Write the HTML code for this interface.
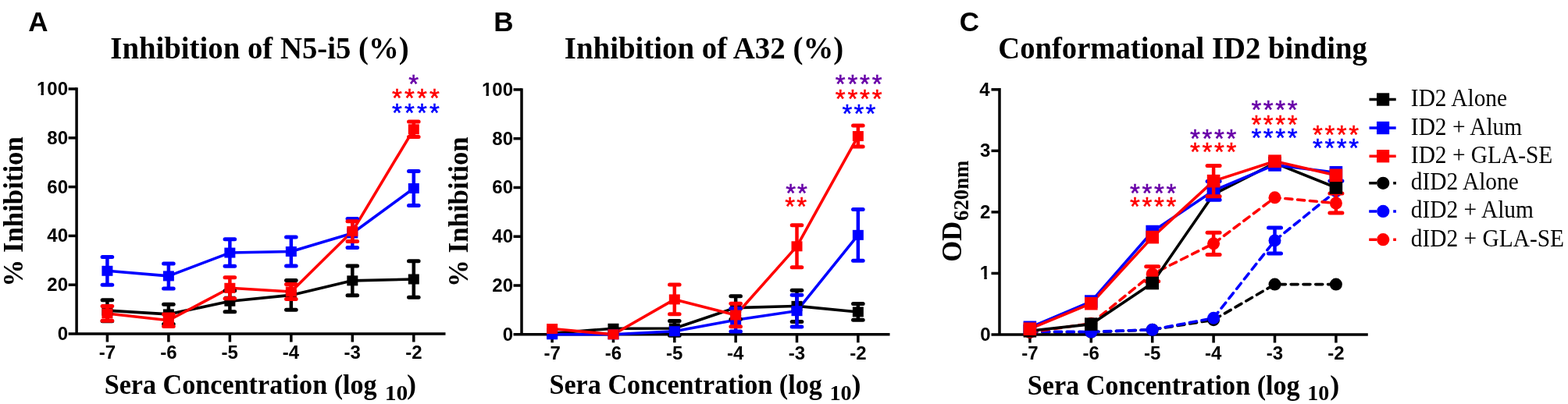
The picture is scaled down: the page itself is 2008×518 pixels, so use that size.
<!DOCTYPE html>
<html><head><meta charset="utf-8"><title>Figure</title>
<style>html,body{margin:0;padding:0;background:#fff;overflow:hidden;}svg{display:block;}</style>
</head><body>
<svg width="2008" height="518" viewBox="0 0 2008 518">
<rect width="2008" height="518" fill="#fff"/>
<text transform="translate(36.23,39.90) scale(1.0000,1)" font-family='"Liberation Sans", Arial, sans-serif' font-weight="bold" font-size="35" fill="#000">A</text>
<text transform="translate(632.26,39.90) scale(1.0000,1)" font-family='"Liberation Sans", Arial, sans-serif' font-weight="bold" font-size="35" fill="#000">B</text>
<text transform="translate(1228.66,39.90) scale(1.0000,1)" font-family='"Liberation Sans", Arial, sans-serif' font-weight="bold" font-size="35" fill="#000">C</text>
<text transform="translate(141.29,74.60) scale(0.9577,1)" font-family='"Liberation Serif", "Times New Roman", serif' font-weight="bold" font-size="40.5" fill="#000">Inhibition of N5-i5 (%)</text>
<text transform="translate(722.79,74.60) scale(0.9598,1)" font-family='"Liberation Serif", "Times New Roman", serif' font-weight="bold" font-size="40.5" fill="#000">Inhibition of A32 (%)</text>
<text transform="translate(1278.21,74.90) scale(0.9549,1)" font-family='"Liberation Serif", "Times New Roman", serif' font-weight="bold" font-size="40.5" fill="#000">Conformational ID2 binding</text>
<path d="M98.10,112.25 V428.00" stroke="#000" stroke-width="3.5" fill="none"/>
<path d="M87.60,428.00 H570.50" stroke="#000" stroke-width="3.5" fill="none"/>
<text transform="translate(73.64,436.00) scale(1.0000,1)" font-family='"Liberation Sans", Arial, sans-serif' font-weight="bold" font-size="24" fill="#000">0</text>
<path d="M87.60,365.20 H98.10" stroke="#000" stroke-width="3.5" fill="none"/>
<text transform="translate(60.29,373.20) scale(1.0000,1)" font-family='"Liberation Sans", Arial, sans-serif' font-weight="bold" font-size="24" fill="#000">20</text>
<path d="M87.60,302.40 H98.10" stroke="#000" stroke-width="3.5" fill="none"/>
<text transform="translate(60.29,310.40) scale(1.0000,1)" font-family='"Liberation Sans", Arial, sans-serif' font-weight="bold" font-size="24" fill="#000">40</text>
<path d="M87.60,239.60 H98.10" stroke="#000" stroke-width="3.5" fill="none"/>
<text transform="translate(60.29,247.60) scale(1.0000,1)" font-family='"Liberation Sans", Arial, sans-serif' font-weight="bold" font-size="24" fill="#000">60</text>
<path d="M87.60,176.80 H98.10" stroke="#000" stroke-width="3.5" fill="none"/>
<text transform="translate(60.29,184.80) scale(1.0000,1)" font-family='"Liberation Sans", Arial, sans-serif' font-weight="bold" font-size="24" fill="#000">80</text>
<path d="M87.60,114.00 H98.10" stroke="#000" stroke-width="3.5" fill="none"/>
<text transform="translate(46.94,122.00) scale(1.0000,1)" font-family='"Liberation Sans", Arial, sans-serif' font-weight="bold" font-size="24" fill="#000">100</text>
<path d="M47.85,117.95 H52.49 V122.80 H47.85 Z M55.89,117.95 H60.22 V122.80 H55.89 Z" fill="#fff"/>
<path d="M137.40,428.00 V438.50" stroke="#000" stroke-width="3.5" fill="none"/>
<text transform="translate(126.79,460.30) scale(1.0000,1)" font-family='"Liberation Sans", Arial, sans-serif' font-weight="bold" font-size="24" fill="#000">-7</text>
<path d="M215.88,428.00 V438.50" stroke="#000" stroke-width="3.5" fill="none"/>
<text transform="translate(205.17,460.30) scale(1.0000,1)" font-family='"Liberation Sans", Arial, sans-serif' font-weight="bold" font-size="24" fill="#000">-6</text>
<path d="M294.36,428.00 V438.50" stroke="#000" stroke-width="3.5" fill="none"/>
<text transform="translate(283.56,460.30) scale(1.0000,1)" font-family='"Liberation Sans", Arial, sans-serif' font-weight="bold" font-size="24" fill="#000">-5</text>
<path d="M372.84,428.00 V438.50" stroke="#000" stroke-width="3.5" fill="none"/>
<text transform="translate(361.77,460.30) scale(1.0000,1)" font-family='"Liberation Sans", Arial, sans-serif' font-weight="bold" font-size="24" fill="#000">-4</text>
<path d="M451.32,428.00 V438.50" stroke="#000" stroke-width="3.5" fill="none"/>
<text transform="translate(440.61,460.30) scale(1.0000,1)" font-family='"Liberation Sans", Arial, sans-serif' font-weight="bold" font-size="24" fill="#000">-3</text>
<path d="M529.80,428.00 V438.50" stroke="#000" stroke-width="3.5" fill="none"/>
<text transform="translate(519.14,460.30) scale(1.0000,1)" font-family='"Liberation Sans", Arial, sans-serif' font-weight="bold" font-size="24" fill="#000">-2</text>
<path d="M137.40,398.17 L215.88,402.88 L294.36,386.24 L372.84,378.39 L451.32,359.86 L529.80,357.98" stroke="#000000" stroke-width="3.6" fill="none" stroke-linejoin="round"/>
<path d="M137.40,347.30 L215.88,353.90 L294.36,324.07 L372.84,322.50 L451.32,298.95 L529.80,241.48" stroke="#0000ff" stroke-width="3.6" fill="none" stroke-linejoin="round"/>
<path d="M137.40,401.94 L215.88,410.73 L294.36,369.28 L372.84,373.99 L451.32,296.59 L529.80,165.81" stroke="#ff0000" stroke-width="3.6" fill="none" stroke-linejoin="round"/>
<path d="M137.40,384.67 V411.67" stroke="#000000" stroke-width="4.5" fill="none"/>
<path d="M131.10,384.67 H143.70" stroke="#000000" stroke-width="5" stroke-linecap="round" fill="none"/>
<path d="M131.10,411.67 H143.70" stroke="#000000" stroke-width="5" stroke-linecap="round" fill="none"/>
<rect x="130.40" y="391.67" width="14" height="13" fill="#000000"/>
<path d="M215.88,390.32 V415.44" stroke="#000000" stroke-width="4.5" fill="none"/>
<path d="M209.58,390.32 H222.18" stroke="#000000" stroke-width="5" stroke-linecap="round" fill="none"/>
<path d="M209.58,415.44 H222.18" stroke="#000000" stroke-width="5" stroke-linecap="round" fill="none"/>
<rect x="208.88" y="396.38" width="14" height="13" fill="#000000"/>
<path d="M294.36,372.74 V399.74" stroke="#000000" stroke-width="4.5" fill="none"/>
<path d="M288.06,372.74 H300.66" stroke="#000000" stroke-width="5" stroke-linecap="round" fill="none"/>
<path d="M288.06,399.74 H300.66" stroke="#000000" stroke-width="5" stroke-linecap="round" fill="none"/>
<rect x="287.36" y="379.74" width="14" height="13" fill="#000000"/>
<path d="M372.84,359.55 V397.23" stroke="#000000" stroke-width="4.5" fill="none"/>
<path d="M366.54,359.55 H379.14" stroke="#000000" stroke-width="5" stroke-linecap="round" fill="none"/>
<path d="M366.54,397.23 H379.14" stroke="#000000" stroke-width="5" stroke-linecap="round" fill="none"/>
<rect x="365.84" y="371.89" width="14" height="13" fill="#000000"/>
<path d="M451.32,341.02 V378.70" stroke="#000000" stroke-width="4.5" fill="none"/>
<path d="M445.02,341.02 H457.62" stroke="#000000" stroke-width="5" stroke-linecap="round" fill="none"/>
<path d="M445.02,378.70 H457.62" stroke="#000000" stroke-width="5" stroke-linecap="round" fill="none"/>
<rect x="444.32" y="353.36" width="14" height="13" fill="#000000"/>
<path d="M529.80,334.74 V381.21" stroke="#000000" stroke-width="4.5" fill="none"/>
<path d="M523.50,334.74 H536.10" stroke="#000000" stroke-width="5" stroke-linecap="round" fill="none"/>
<path d="M523.50,381.21 H536.10" stroke="#000000" stroke-width="5" stroke-linecap="round" fill="none"/>
<rect x="522.80" y="351.48" width="14" height="13" fill="#000000"/>
<path d="M137.40,329.40 V365.20" stroke="#0000ff" stroke-width="4.5" fill="none"/>
<path d="M131.10,329.40 H143.70" stroke="#0000ff" stroke-width="5" stroke-linecap="round" fill="none"/>
<path d="M131.10,365.20 H143.70" stroke="#0000ff" stroke-width="5" stroke-linecap="round" fill="none"/>
<rect x="130.40" y="340.80" width="14" height="13" fill="#0000ff"/>
<path d="M215.88,337.88 V369.91" stroke="#0000ff" stroke-width="4.5" fill="none"/>
<path d="M209.58,337.88 H222.18" stroke="#0000ff" stroke-width="5" stroke-linecap="round" fill="none"/>
<path d="M209.58,369.91 H222.18" stroke="#0000ff" stroke-width="5" stroke-linecap="round" fill="none"/>
<rect x="208.88" y="347.40" width="14" height="13" fill="#0000ff"/>
<path d="M294.36,306.80 V341.34" stroke="#0000ff" stroke-width="4.5" fill="none"/>
<path d="M288.06,306.80 H300.66" stroke="#0000ff" stroke-width="5" stroke-linecap="round" fill="none"/>
<path d="M288.06,341.34 H300.66" stroke="#0000ff" stroke-width="5" stroke-linecap="round" fill="none"/>
<rect x="287.36" y="317.57" width="14" height="13" fill="#0000ff"/>
<path d="M372.84,303.97 V341.02" stroke="#0000ff" stroke-width="4.5" fill="none"/>
<path d="M366.54,303.97 H379.14" stroke="#0000ff" stroke-width="5" stroke-linecap="round" fill="none"/>
<path d="M366.54,341.02 H379.14" stroke="#0000ff" stroke-width="5" stroke-linecap="round" fill="none"/>
<rect x="365.84" y="316.00" width="14" height="13" fill="#0000ff"/>
<path d="M451.32,280.42 V317.47" stroke="#0000ff" stroke-width="4.5" fill="none"/>
<path d="M445.02,280.42 H457.62" stroke="#0000ff" stroke-width="5" stroke-linecap="round" fill="none"/>
<path d="M445.02,317.47 H457.62" stroke="#0000ff" stroke-width="5" stroke-linecap="round" fill="none"/>
<rect x="444.32" y="292.45" width="14" height="13" fill="#0000ff"/>
<path d="M529.80,219.50 V263.46" stroke="#0000ff" stroke-width="4.5" fill="none"/>
<path d="M523.50,219.50 H536.10" stroke="#0000ff" stroke-width="5" stroke-linecap="round" fill="none"/>
<path d="M523.50,263.46 H536.10" stroke="#0000ff" stroke-width="5" stroke-linecap="round" fill="none"/>
<rect x="522.80" y="234.98" width="14" height="13" fill="#0000ff"/>
<path d="M137.40,392.52 V411.36" stroke="#ff0000" stroke-width="4.5" fill="none"/>
<path d="M131.10,392.52 H143.70" stroke="#ff0000" stroke-width="5" stroke-linecap="round" fill="none"/>
<path d="M131.10,411.36 H143.70" stroke="#ff0000" stroke-width="5" stroke-linecap="round" fill="none"/>
<rect x="130.40" y="395.44" width="14" height="13" fill="#ff0000"/>
<path d="M215.88,402.88 V418.58" stroke="#ff0000" stroke-width="4.5" fill="none"/>
<path d="M209.58,402.88 H222.18" stroke="#ff0000" stroke-width="5" stroke-linecap="round" fill="none"/>
<path d="M209.58,418.58 H222.18" stroke="#ff0000" stroke-width="5" stroke-linecap="round" fill="none"/>
<rect x="208.88" y="404.23" width="14" height="13" fill="#ff0000"/>
<path d="M294.36,355.78 V382.78" stroke="#ff0000" stroke-width="4.5" fill="none"/>
<path d="M288.06,355.78 H300.66" stroke="#ff0000" stroke-width="5" stroke-linecap="round" fill="none"/>
<path d="M288.06,382.78 H300.66" stroke="#ff0000" stroke-width="5" stroke-linecap="round" fill="none"/>
<rect x="287.36" y="362.78" width="14" height="13" fill="#ff0000"/>
<path d="M372.84,364.57 V383.41" stroke="#ff0000" stroke-width="4.5" fill="none"/>
<path d="M366.54,364.57 H379.14" stroke="#ff0000" stroke-width="5" stroke-linecap="round" fill="none"/>
<path d="M366.54,383.41 H379.14" stroke="#ff0000" stroke-width="5" stroke-linecap="round" fill="none"/>
<rect x="365.84" y="367.49" width="14" height="13" fill="#ff0000"/>
<path d="M451.32,283.72 V309.47" stroke="#ff0000" stroke-width="4.5" fill="none"/>
<path d="M445.02,283.72 H457.62" stroke="#ff0000" stroke-width="5" stroke-linecap="round" fill="none"/>
<path d="M445.02,309.47 H457.62" stroke="#ff0000" stroke-width="5" stroke-linecap="round" fill="none"/>
<rect x="444.32" y="290.09" width="14" height="13" fill="#ff0000"/>
<path d="M529.80,156.08 V175.54" stroke="#ff0000" stroke-width="4.5" fill="none"/>
<path d="M523.50,156.08 H536.10" stroke="#ff0000" stroke-width="5" stroke-linecap="round" fill="none"/>
<path d="M523.50,175.54 H536.10" stroke="#ff0000" stroke-width="5" stroke-linecap="round" fill="none"/>
<rect x="522.80" y="159.31" width="14" height="13" fill="#ff0000"/>
<path d="M668.00,113.15 V428.80" stroke="#000" stroke-width="3.5" fill="none"/>
<path d="M657.50,428.80 H1139.50" stroke="#000" stroke-width="3.5" fill="none"/>
<text transform="translate(643.64,436.80) scale(1.0000,1)" font-family='"Liberation Sans", Arial, sans-serif' font-weight="bold" font-size="24" fill="#000">0</text>
<path d="M657.50,366.02 H668.00" stroke="#000" stroke-width="3.5" fill="none"/>
<text transform="translate(630.29,374.02) scale(1.0000,1)" font-family='"Liberation Sans", Arial, sans-serif' font-weight="bold" font-size="24" fill="#000">20</text>
<path d="M657.50,303.24 H668.00" stroke="#000" stroke-width="3.5" fill="none"/>
<text transform="translate(630.29,311.24) scale(1.0000,1)" font-family='"Liberation Sans", Arial, sans-serif' font-weight="bold" font-size="24" fill="#000">40</text>
<path d="M657.50,240.46 H668.00" stroke="#000" stroke-width="3.5" fill="none"/>
<text transform="translate(630.29,248.46) scale(1.0000,1)" font-family='"Liberation Sans", Arial, sans-serif' font-weight="bold" font-size="24" fill="#000">60</text>
<path d="M657.50,177.68 H668.00" stroke="#000" stroke-width="3.5" fill="none"/>
<text transform="translate(630.29,185.68) scale(1.0000,1)" font-family='"Liberation Sans", Arial, sans-serif' font-weight="bold" font-size="24" fill="#000">80</text>
<path d="M657.50,114.90 H668.00" stroke="#000" stroke-width="3.5" fill="none"/>
<text transform="translate(616.94,122.90) scale(1.0000,1)" font-family='"Liberation Sans", Arial, sans-serif' font-weight="bold" font-size="24" fill="#000">100</text>
<path d="M617.85,118.85 H622.49 V123.70 H617.85 Z M625.89,118.85 H630.22 V123.70 H625.89 Z" fill="#fff"/>
<path d="M707.10,428.80 V439.30" stroke="#000" stroke-width="3.5" fill="none"/>
<text transform="translate(696.49,460.50) scale(1.0000,1)" font-family='"Liberation Sans", Arial, sans-serif' font-weight="bold" font-size="24" fill="#000">-7</text>
<path d="M785.45,428.80 V439.30" stroke="#000" stroke-width="3.5" fill="none"/>
<text transform="translate(774.74,460.50) scale(1.0000,1)" font-family='"Liberation Sans", Arial, sans-serif' font-weight="bold" font-size="24" fill="#000">-6</text>
<path d="M863.80,428.80 V439.30" stroke="#000" stroke-width="3.5" fill="none"/>
<text transform="translate(853.00,460.50) scale(1.0000,1)" font-family='"Liberation Sans", Arial, sans-serif' font-weight="bold" font-size="24" fill="#000">-5</text>
<path d="M942.15,428.80 V439.30" stroke="#000" stroke-width="3.5" fill="none"/>
<text transform="translate(931.08,460.50) scale(1.0000,1)" font-family='"Liberation Sans", Arial, sans-serif' font-weight="bold" font-size="24" fill="#000">-4</text>
<path d="M1020.50,428.80 V439.30" stroke="#000" stroke-width="3.5" fill="none"/>
<text transform="translate(1009.79,460.50) scale(1.0000,1)" font-family='"Liberation Sans", Arial, sans-serif' font-weight="bold" font-size="24" fill="#000">-3</text>
<path d="M1098.85,428.80 V439.30" stroke="#000" stroke-width="3.5" fill="none"/>
<text transform="translate(1088.19,460.50) scale(1.0000,1)" font-family='"Liberation Sans", Arial, sans-serif' font-weight="bold" font-size="24" fill="#000">-2</text>
<path d="M707.10,427.23 L785.45,421.27 L863.80,420.95 L942.15,394.58 L1020.50,392.39 L1098.85,399.92" stroke="#000000" stroke-width="3.6" fill="none" stroke-linejoin="round"/>
<path d="M707.10,428.80 L785.45,428.80 L863.80,424.72 L942.15,410.28 L1020.50,398.67 L1098.85,301.36" stroke="#0000ff" stroke-width="3.6" fill="none" stroke-linejoin="round"/>
<path d="M707.10,421.58 L785.45,428.80 L863.80,383.91 L942.15,404.00 L1020.50,315.80 L1098.85,174.54" stroke="#ff0000" stroke-width="3.6" fill="none" stroke-linejoin="round"/>
<rect x="700.10" y="420.73" width="14" height="13" fill="#000000"/>
<rect x="778.45" y="414.77" width="14" height="13" fill="#000000"/>
<path d="M863.80,411.54 V430.37" stroke="#000000" stroke-width="4.5" fill="none"/>
<path d="M857.50,411.54 H870.10" stroke="#000000" stroke-width="5" stroke-linecap="round" fill="none"/>
<path d="M857.50,430.37 H870.10" stroke="#000000" stroke-width="5" stroke-linecap="round" fill="none"/>
<rect x="856.80" y="414.45" width="14" height="13" fill="#000000"/>
<path d="M942.15,379.83 V409.34" stroke="#000000" stroke-width="4.5" fill="none"/>
<path d="M935.85,379.83 H948.45" stroke="#000000" stroke-width="5" stroke-linecap="round" fill="none"/>
<path d="M935.85,409.34 H948.45" stroke="#000000" stroke-width="5" stroke-linecap="round" fill="none"/>
<rect x="935.15" y="388.08" width="14" height="13" fill="#000000"/>
<path d="M1020.50,372.30 V412.48" stroke="#000000" stroke-width="4.5" fill="none"/>
<path d="M1014.20,372.30 H1026.80" stroke="#000000" stroke-width="5" stroke-linecap="round" fill="none"/>
<path d="M1014.20,412.48 H1026.80" stroke="#000000" stroke-width="5" stroke-linecap="round" fill="none"/>
<rect x="1013.50" y="385.89" width="14" height="13" fill="#000000"/>
<path d="M1098.85,389.56 V410.28" stroke="#000000" stroke-width="4.5" fill="none"/>
<path d="M1092.55,389.56 H1105.15" stroke="#000000" stroke-width="5" stroke-linecap="round" fill="none"/>
<path d="M1092.55,410.28 H1105.15" stroke="#000000" stroke-width="5" stroke-linecap="round" fill="none"/>
<rect x="1091.85" y="393.42" width="14" height="13" fill="#000000"/>
<rect x="700.10" y="422.30" width="14" height="13" fill="#0000ff"/>
<rect x="778.45" y="422.30" width="14" height="13" fill="#0000ff"/>
<rect x="856.80" y="418.22" width="14" height="13" fill="#0000ff"/>
<path d="M942.15,395.53 V425.03" stroke="#0000ff" stroke-width="4.5" fill="none"/>
<path d="M935.85,395.53 H948.45" stroke="#0000ff" stroke-width="5" stroke-linecap="round" fill="none"/>
<path d="M935.85,425.03 H948.45" stroke="#0000ff" stroke-width="5" stroke-linecap="round" fill="none"/>
<rect x="935.15" y="403.78" width="14" height="13" fill="#0000ff"/>
<path d="M1020.50,378.26 V419.07" stroke="#0000ff" stroke-width="4.5" fill="none"/>
<path d="M1014.20,378.26 H1026.80" stroke="#0000ff" stroke-width="5" stroke-linecap="round" fill="none"/>
<path d="M1014.20,419.07 H1026.80" stroke="#0000ff" stroke-width="5" stroke-linecap="round" fill="none"/>
<rect x="1013.50" y="392.17" width="14" height="13" fill="#0000ff"/>
<path d="M1098.85,268.40 V334.32" stroke="#0000ff" stroke-width="4.5" fill="none"/>
<path d="M1092.55,268.40 H1105.15" stroke="#0000ff" stroke-width="5" stroke-linecap="round" fill="none"/>
<path d="M1092.55,334.32 H1105.15" stroke="#0000ff" stroke-width="5" stroke-linecap="round" fill="none"/>
<rect x="1091.85" y="294.86" width="14" height="13" fill="#0000ff"/>
<rect x="700.10" y="415.08" width="14" height="13" fill="#ff0000"/>
<rect x="778.45" y="422.30" width="14" height="13" fill="#ff0000"/>
<path d="M863.80,365.08 V402.75" stroke="#ff0000" stroke-width="4.5" fill="none"/>
<path d="M857.50,365.08 H870.10" stroke="#ff0000" stroke-width="5" stroke-linecap="round" fill="none"/>
<path d="M857.50,402.75 H870.10" stroke="#ff0000" stroke-width="5" stroke-linecap="round" fill="none"/>
<rect x="856.80" y="377.41" width="14" height="13" fill="#ff0000"/>
<path d="M942.15,389.25 V418.76" stroke="#ff0000" stroke-width="4.5" fill="none"/>
<path d="M935.85,389.25 H948.45" stroke="#ff0000" stroke-width="5" stroke-linecap="round" fill="none"/>
<path d="M935.85,418.76 H948.45" stroke="#ff0000" stroke-width="5" stroke-linecap="round" fill="none"/>
<rect x="935.15" y="397.50" width="14" height="13" fill="#ff0000"/>
<path d="M1020.50,288.80 V342.79" stroke="#ff0000" stroke-width="4.5" fill="none"/>
<path d="M1014.20,288.80 H1026.80" stroke="#ff0000" stroke-width="5" stroke-linecap="round" fill="none"/>
<path d="M1014.20,342.79 H1026.80" stroke="#ff0000" stroke-width="5" stroke-linecap="round" fill="none"/>
<rect x="1013.50" y="309.30" width="14" height="13" fill="#ff0000"/>
<path d="M1098.85,161.04 V188.04" stroke="#ff0000" stroke-width="4.5" fill="none"/>
<path d="M1092.55,161.04 H1105.15" stroke="#ff0000" stroke-width="5" stroke-linecap="round" fill="none"/>
<path d="M1092.55,188.04 H1105.15" stroke="#ff0000" stroke-width="5" stroke-linecap="round" fill="none"/>
<rect x="1091.85" y="168.04" width="14" height="13" fill="#ff0000"/>
<path d="M1280.00,113.05 V429.00" stroke="#000" stroke-width="3.5" fill="none"/>
<path d="M1269.50,429.00 H1751.80" stroke="#000" stroke-width="3.5" fill="none"/>
<text transform="translate(1255.14,437.00) scale(1.0000,1)" font-family='"Liberation Sans", Arial, sans-serif' font-weight="bold" font-size="24" fill="#000">0</text>
<path d="M1269.50,350.45 H1280.00" stroke="#000" stroke-width="3.5" fill="none"/>
<text transform="translate(1254.82,358.45) scale(1.0000,1)" font-family='"Liberation Sans", Arial, sans-serif' font-weight="bold" font-size="24" fill="#000">1</text>
<path d="M1255.73,354.40 H1260.37 V359.25 H1255.73 Z M1263.76,354.40 H1268.10 V359.25 H1263.76 Z" fill="#fff"/>
<path d="M1269.50,271.90 H1280.00" stroke="#000" stroke-width="3.5" fill="none"/>
<text transform="translate(1255.11,279.90) scale(1.0000,1)" font-family='"Liberation Sans", Arial, sans-serif' font-weight="bold" font-size="24" fill="#000">2</text>
<path d="M1269.50,193.35 H1280.00" stroke="#000" stroke-width="3.5" fill="none"/>
<text transform="translate(1255.02,201.35) scale(1.0000,1)" font-family='"Liberation Sans", Arial, sans-serif' font-weight="bold" font-size="24" fill="#000">3</text>
<path d="M1269.50,114.80 H1280.00" stroke="#000" stroke-width="3.5" fill="none"/>
<text transform="translate(1254.28,122.80) scale(1.0000,1)" font-family='"Liberation Sans", Arial, sans-serif' font-weight="bold" font-size="24" fill="#000">4</text>
<path d="M1318.90,429.00 V439.50" stroke="#000" stroke-width="3.5" fill="none"/>
<text transform="translate(1308.29,460.50) scale(1.0000,1)" font-family='"Liberation Sans", Arial, sans-serif' font-weight="bold" font-size="24" fill="#000">-7</text>
<path d="M1397.30,429.00 V439.50" stroke="#000" stroke-width="3.5" fill="none"/>
<text transform="translate(1386.59,460.50) scale(1.0000,1)" font-family='"Liberation Sans", Arial, sans-serif' font-weight="bold" font-size="24" fill="#000">-6</text>
<path d="M1475.70,429.00 V439.50" stroke="#000" stroke-width="3.5" fill="none"/>
<text transform="translate(1464.90,460.50) scale(1.0000,1)" font-family='"Liberation Sans", Arial, sans-serif' font-weight="bold" font-size="24" fill="#000">-5</text>
<path d="M1554.10,429.00 V439.50" stroke="#000" stroke-width="3.5" fill="none"/>
<text transform="translate(1543.03,460.50) scale(1.0000,1)" font-family='"Liberation Sans", Arial, sans-serif' font-weight="bold" font-size="24" fill="#000">-4</text>
<path d="M1632.50,429.00 V439.50" stroke="#000" stroke-width="3.5" fill="none"/>
<text transform="translate(1621.79,460.50) scale(1.0000,1)" font-family='"Liberation Sans", Arial, sans-serif' font-weight="bold" font-size="24" fill="#000">-3</text>
<path d="M1710.90,429.00 V439.50" stroke="#000" stroke-width="3.5" fill="none"/>
<text transform="translate(1700.24,460.50) scale(1.0000,1)" font-family='"Liberation Sans", Arial, sans-serif' font-weight="bold" font-size="24" fill="#000">-2</text>
<path d="M1318.90,425.86 L1397.30,425.86 L1475.70,422.72 L1554.10,410.15 L1632.50,364.59 L1710.90,364.59" stroke="#000000" stroke-width="3.6" fill="none" stroke-linejoin="round" stroke-dasharray="9,6.8" stroke-linecap="round"/>
<path d="M1318.90,425.07 L1397.30,425.47 L1475.70,422.72 L1554.10,407.79 L1632.50,308.43 L1710.90,245.19" stroke="#0000ff" stroke-width="3.6" fill="none" stroke-linejoin="round" stroke-dasharray="9,6.8" stroke-linecap="round"/>
<path d="M1318.90,425.86 L1397.30,414.86 L1475.70,351.24 L1554.10,312.35 L1632.50,253.36 L1710.90,260.51" stroke="#ff0000" stroke-width="3.6" fill="none" stroke-linejoin="round" stroke-dasharray="9,6.8" stroke-linecap="round"/>
<path d="M1318.90,424.29 L1397.30,415.65 L1475.70,363.02 L1554.10,249.12 L1632.50,209.06 L1710.90,240.48" stroke="#000000" stroke-width="3.6" fill="none" stroke-linejoin="round"/>
<path d="M1318.90,419.81 L1397.30,386.58 L1475.70,297.04 L1554.10,244.41 L1632.50,211.42 L1710.90,221.24" stroke="#0000ff" stroke-width="3.6" fill="none" stroke-linejoin="round"/>
<path d="M1318.90,421.69 L1397.30,389.18 L1475.70,304.11 L1554.10,232.15 L1632.50,206.70 L1710.90,224.77" stroke="#ff0000" stroke-width="3.6" fill="none" stroke-linejoin="round"/>
<circle cx="1318.90" cy="425.86" r="8" fill="#000000"/>
<circle cx="1397.30" cy="425.86" r="8" fill="#000000"/>
<circle cx="1475.70" cy="422.72" r="8" fill="#000000"/>
<circle cx="1554.10" cy="410.15" r="8" fill="#000000"/>
<circle cx="1632.50" cy="364.59" r="8" fill="#000000"/>
<circle cx="1710.90" cy="364.59" r="8" fill="#000000"/>
<circle cx="1318.90" cy="425.07" r="8" fill="#0000ff"/>
<circle cx="1397.30" cy="425.47" r="8" fill="#0000ff"/>
<circle cx="1475.70" cy="422.72" r="8" fill="#0000ff"/>
<circle cx="1554.10" cy="407.79" r="8" fill="#0000ff"/>
<path d="M1632.50,291.93 V324.92" stroke="#0000ff" stroke-width="4.5" fill="none"/>
<path d="M1624.50,291.93 H1640.50" stroke="#0000ff" stroke-width="5" stroke-linecap="round" fill="none"/>
<path d="M1624.50,324.92 H1640.50" stroke="#0000ff" stroke-width="5" stroke-linecap="round" fill="none"/>
<circle cx="1632.50" cy="308.43" r="8" fill="#0000ff"/>
<path d="M1710.90,232.00 V245.19" stroke="#0000ff" stroke-width="4.5" fill="none"/>
<path d="M1702.90,232.00 H1718.90" stroke="#0000ff" stroke-width="5" stroke-linecap="round" fill="none"/>
<circle cx="1710.90" cy="245.19" r="8" fill="#0000ff"/>
<circle cx="1318.90" cy="425.86" r="8" fill="#ff0000"/>
<circle cx="1397.30" cy="414.86" r="8" fill="#ff0000"/>
<path d="M1475.70,341.81 V360.66" stroke="#ff0000" stroke-width="4.5" fill="none"/>
<path d="M1467.70,341.81 H1483.70" stroke="#ff0000" stroke-width="5" stroke-linecap="round" fill="none"/>
<path d="M1467.70,360.66 H1483.70" stroke="#ff0000" stroke-width="5" stroke-linecap="round" fill="none"/>
<circle cx="1475.70" cy="351.24" r="8" fill="#ff0000"/>
<path d="M1554.10,298.21 V326.49" stroke="#ff0000" stroke-width="4.5" fill="none"/>
<path d="M1546.10,298.21 H1562.10" stroke="#ff0000" stroke-width="5" stroke-linecap="round" fill="none"/>
<path d="M1546.10,326.49 H1562.10" stroke="#ff0000" stroke-width="5" stroke-linecap="round" fill="none"/>
<circle cx="1554.10" cy="312.35" r="8" fill="#ff0000"/>
<circle cx="1632.50" cy="253.36" r="8" fill="#ff0000"/>
<path d="M1710.90,247.94 V273.08" stroke="#ff0000" stroke-width="4.5" fill="none"/>
<path d="M1702.90,247.94 H1718.90" stroke="#ff0000" stroke-width="5" stroke-linecap="round" fill="none"/>
<path d="M1702.90,273.08 H1718.90" stroke="#ff0000" stroke-width="5" stroke-linecap="round" fill="none"/>
<circle cx="1710.90" cy="260.51" r="8" fill="#ff0000"/>
<rect x="1310.60" y="415.99" width="16.6" height="16.6" fill="#000000"/>
<rect x="1389.00" y="407.35" width="16.6" height="16.6" fill="#000000"/>
<rect x="1467.40" y="354.72" width="16.6" height="16.6" fill="#000000"/>
<rect x="1545.80" y="240.82" width="16.6" height="16.6" fill="#000000"/>
<rect x="1624.20" y="200.76" width="16.6" height="16.6" fill="#000000"/>
<rect x="1702.60" y="232.18" width="16.6" height="16.6" fill="#000000"/>
<rect x="1310.60" y="411.51" width="16.6" height="16.6" fill="#0000ff"/>
<rect x="1389.00" y="378.28" width="16.6" height="16.6" fill="#0000ff"/>
<rect x="1467.40" y="288.74" width="16.6" height="16.6" fill="#0000ff"/>
<path d="M1554.10,232.62 V256.19" stroke="#0000ff" stroke-width="4.5" fill="none"/>
<path d="M1546.10,232.62 H1562.10" stroke="#0000ff" stroke-width="5" stroke-linecap="round" fill="none"/>
<path d="M1546.10,256.19 H1562.10" stroke="#0000ff" stroke-width="5" stroke-linecap="round" fill="none"/>
<rect x="1545.80" y="236.11" width="16.6" height="16.6" fill="#0000ff"/>
<rect x="1624.20" y="203.12" width="16.6" height="16.6" fill="#0000ff"/>
<rect x="1702.60" y="212.94" width="16.6" height="16.6" fill="#0000ff"/>
<rect x="1310.60" y="413.39" width="16.6" height="16.6" fill="#ff0000"/>
<rect x="1389.00" y="380.88" width="16.6" height="16.6" fill="#ff0000"/>
<rect x="1467.40" y="295.81" width="16.6" height="16.6" fill="#ff0000"/>
<path d="M1554.10,212.52 V251.79" stroke="#ff0000" stroke-width="4.5" fill="none"/>
<path d="M1546.10,212.52 H1562.10" stroke="#ff0000" stroke-width="5" stroke-linecap="round" fill="none"/>
<path d="M1546.10,251.79 H1562.10" stroke="#ff0000" stroke-width="5" stroke-linecap="round" fill="none"/>
<rect x="1545.80" y="223.85" width="16.6" height="16.6" fill="#ff0000"/>
<rect x="1624.20" y="198.40" width="16.6" height="16.6" fill="#ff0000"/>
<rect x="1702.60" y="216.47" width="16.6" height="16.6" fill="#ff0000"/>
<text transform="translate(133.68,504.80) scale(0.9489,1)" font-family='"Liberation Serif", "Times New Roman", serif' font-weight="bold" font-size="36" fill="#000">Sera Concentration (log</text>
<text transform="translate(492.63,512.60) scale(1.0763,1)" font-family='"Liberation Serif", "Times New Roman", serif' font-weight="bold" font-size="27.5" fill="#000">10</text>
<text transform="translate(520.89,504.80) scale(1.0000,1)" font-family='"Liberation Serif", "Times New Roman", serif' font-weight="bold" font-size="36" fill="#000">)</text>
<text transform="translate(703.38,505.30) scale(0.9500,1)" font-family='"Liberation Serif", "Times New Roman", serif' font-weight="bold" font-size="36" fill="#000">Sera Concentration (log</text>
<text transform="translate(1062.44,513.10) scale(1.0268,1)" font-family='"Liberation Serif", "Times New Roman", serif' font-weight="bold" font-size="27.5" fill="#000">10</text>
<text transform="translate(1090.39,505.30) scale(1.0000,1)" font-family='"Liberation Serif", "Times New Roman", serif' font-weight="bold" font-size="36" fill="#000">)</text>
<text transform="translate(1315.78,505.60) scale(0.9484,1)" font-family='"Liberation Serif", "Times New Roman", serif' font-weight="bold" font-size="36" fill="#000">Sera Concentration (log</text>
<text transform="translate(1674.16,513.40) scale(1.0185,1)" font-family='"Liberation Serif", "Times New Roman", serif' font-weight="bold" font-size="27.5" fill="#000">10</text>
<text transform="translate(1703.19,505.60) scale(1.0000,1)" font-family='"Liberation Serif", "Times New Roman", serif' font-weight="bold" font-size="36" fill="#000">)</text>
<text transform="translate(28.60,367.57) rotate(-90) scale(0.9664,1)" font-family='"Liberation Serif", "Times New Roman", serif' font-weight="bold" font-size="36" fill="#000">% Inhibition</text>
<text transform="translate(598.60,367.97) rotate(-90) scale(0.9684,1)" font-family='"Liberation Serif", "Times New Roman", serif' font-weight="bold" font-size="36" fill="#000">% Inhibition</text>
<text transform="translate(1231.20,335.69) rotate(-90) scale(0.9607,1)" font-family='"Liberation Serif", "Times New Roman", serif' font-weight="bold" font-size="36" fill="#000">OD</text>
<text transform="translate(1239.60,282.92) rotate(-90) scale(0.9919,1)" font-family='"Liberation Serif", "Times New Roman", serif' font-weight="bold" font-size="27" fill="#000">620nm</text>
<text x="523.32" y="118.55" font-family='"Liberation Sans", Arial, sans-serif' font-size="33" fill="#6800a8" stroke="#6800a8" stroke-width="0.5">*</text>
<text x="502.12" y="137.45" font-family='"Liberation Sans", Arial, sans-serif' font-size="33" fill="#ff0000" stroke="#ff0000" stroke-width="0.5">*</text>
<text x="518.05" y="137.45" font-family='"Liberation Sans", Arial, sans-serif' font-size="33" fill="#ff0000" stroke="#ff0000" stroke-width="0.5">*</text>
<text x="533.99" y="137.45" font-family='"Liberation Sans", Arial, sans-serif' font-size="33" fill="#ff0000" stroke="#ff0000" stroke-width="0.5">*</text>
<text x="549.92" y="137.45" font-family='"Liberation Sans", Arial, sans-serif' font-size="33" fill="#ff0000" stroke="#ff0000" stroke-width="0.5">*</text>
<text x="502.12" y="156.45" font-family='"Liberation Sans", Arial, sans-serif' font-size="33" fill="#0000ff" stroke="#0000ff" stroke-width="0.5">*</text>
<text x="518.05" y="156.45" font-family='"Liberation Sans", Arial, sans-serif' font-size="33" fill="#0000ff" stroke="#0000ff" stroke-width="0.5">*</text>
<text x="533.99" y="156.45" font-family='"Liberation Sans", Arial, sans-serif' font-size="33" fill="#0000ff" stroke="#0000ff" stroke-width="0.5">*</text>
<text x="549.92" y="156.45" font-family='"Liberation Sans", Arial, sans-serif' font-size="33" fill="#0000ff" stroke="#0000ff" stroke-width="0.5">*</text>
<text x="1069.82" y="118.85" font-family='"Liberation Sans", Arial, sans-serif' font-size="33" fill="#6800a8" stroke="#6800a8" stroke-width="0.5">*</text>
<text x="1085.45" y="118.85" font-family='"Liberation Sans", Arial, sans-serif' font-size="33" fill="#6800a8" stroke="#6800a8" stroke-width="0.5">*</text>
<text x="1101.09" y="118.85" font-family='"Liberation Sans", Arial, sans-serif' font-size="33" fill="#6800a8" stroke="#6800a8" stroke-width="0.5">*</text>
<text x="1116.72" y="118.85" font-family='"Liberation Sans", Arial, sans-serif' font-size="33" fill="#6800a8" stroke="#6800a8" stroke-width="0.5">*</text>
<text x="1069.82" y="138.05" font-family='"Liberation Sans", Arial, sans-serif' font-size="33" fill="#ff0000" stroke="#ff0000" stroke-width="0.5">*</text>
<text x="1085.45" y="138.05" font-family='"Liberation Sans", Arial, sans-serif' font-size="33" fill="#ff0000" stroke="#ff0000" stroke-width="0.5">*</text>
<text x="1101.09" y="138.05" font-family='"Liberation Sans", Arial, sans-serif' font-size="33" fill="#ff0000" stroke="#ff0000" stroke-width="0.5">*</text>
<text x="1116.72" y="138.05" font-family='"Liberation Sans", Arial, sans-serif' font-size="33" fill="#ff0000" stroke="#ff0000" stroke-width="0.5">*</text>
<text x="1078.42" y="157.45" font-family='"Liberation Sans", Arial, sans-serif' font-size="33" fill="#0000ff" stroke="#0000ff" stroke-width="0.5">*</text>
<text x="1093.42" y="157.45" font-family='"Liberation Sans", Arial, sans-serif' font-size="33" fill="#0000ff" stroke="#0000ff" stroke-width="0.5">*</text>
<text x="1108.42" y="157.45" font-family='"Liberation Sans", Arial, sans-serif' font-size="33" fill="#0000ff" stroke="#0000ff" stroke-width="0.5">*</text>
<text x="1006.22" y="258.55" font-family='"Liberation Sans", Arial, sans-serif' font-size="33" fill="#6800a8" stroke="#6800a8" stroke-width="0.5">*</text>
<text x="1020.92" y="258.55" font-family='"Liberation Sans", Arial, sans-serif' font-size="33" fill="#6800a8" stroke="#6800a8" stroke-width="0.5">*</text>
<text x="1005.22" y="275.65" font-family='"Liberation Sans", Arial, sans-serif' font-size="33" fill="#ff0000" stroke="#ff0000" stroke-width="0.5">*</text>
<text x="1020.32" y="275.65" font-family='"Liberation Sans", Arial, sans-serif' font-size="33" fill="#ff0000" stroke="#ff0000" stroke-width="0.5">*</text>
<text x="1447.02" y="258.55" font-family='"Liberation Sans", Arial, sans-serif' font-size="33" fill="#6800a8" stroke="#6800a8" stroke-width="0.5">*</text>
<text x="1462.55" y="258.55" font-family='"Liberation Sans", Arial, sans-serif' font-size="33" fill="#6800a8" stroke="#6800a8" stroke-width="0.5">*</text>
<text x="1478.09" y="258.55" font-family='"Liberation Sans", Arial, sans-serif' font-size="33" fill="#6800a8" stroke="#6800a8" stroke-width="0.5">*</text>
<text x="1493.62" y="258.55" font-family='"Liberation Sans", Arial, sans-serif' font-size="33" fill="#6800a8" stroke="#6800a8" stroke-width="0.5">*</text>
<text x="1447.02" y="276.45" font-family='"Liberation Sans", Arial, sans-serif' font-size="33" fill="#ff0000" stroke="#ff0000" stroke-width="0.5">*</text>
<text x="1462.55" y="276.45" font-family='"Liberation Sans", Arial, sans-serif' font-size="33" fill="#ff0000" stroke="#ff0000" stroke-width="0.5">*</text>
<text x="1478.09" y="276.45" font-family='"Liberation Sans", Arial, sans-serif' font-size="33" fill="#ff0000" stroke="#ff0000" stroke-width="0.5">*</text>
<text x="1493.62" y="276.45" font-family='"Liberation Sans", Arial, sans-serif' font-size="33" fill="#ff0000" stroke="#ff0000" stroke-width="0.5">*</text>
<text x="1523.92" y="189.45" font-family='"Liberation Sans", Arial, sans-serif' font-size="33" fill="#6800a8" stroke="#6800a8" stroke-width="0.5">*</text>
<text x="1539.45" y="189.45" font-family='"Liberation Sans", Arial, sans-serif' font-size="33" fill="#6800a8" stroke="#6800a8" stroke-width="0.5">*</text>
<text x="1554.99" y="189.45" font-family='"Liberation Sans", Arial, sans-serif' font-size="33" fill="#6800a8" stroke="#6800a8" stroke-width="0.5">*</text>
<text x="1570.52" y="189.45" font-family='"Liberation Sans", Arial, sans-serif' font-size="33" fill="#6800a8" stroke="#6800a8" stroke-width="0.5">*</text>
<text x="1523.92" y="206.45" font-family='"Liberation Sans", Arial, sans-serif' font-size="33" fill="#ff0000" stroke="#ff0000" stroke-width="0.5">*</text>
<text x="1539.45" y="206.45" font-family='"Liberation Sans", Arial, sans-serif' font-size="33" fill="#ff0000" stroke="#ff0000" stroke-width="0.5">*</text>
<text x="1554.99" y="206.45" font-family='"Liberation Sans", Arial, sans-serif' font-size="33" fill="#ff0000" stroke="#ff0000" stroke-width="0.5">*</text>
<text x="1570.52" y="206.45" font-family='"Liberation Sans", Arial, sans-serif' font-size="33" fill="#ff0000" stroke="#ff0000" stroke-width="0.5">*</text>
<text x="1602.42" y="151.95" font-family='"Liberation Sans", Arial, sans-serif' font-size="33" fill="#6800a8" stroke="#6800a8" stroke-width="0.5">*</text>
<text x="1617.85" y="151.95" font-family='"Liberation Sans", Arial, sans-serif' font-size="33" fill="#6800a8" stroke="#6800a8" stroke-width="0.5">*</text>
<text x="1633.29" y="151.95" font-family='"Liberation Sans", Arial, sans-serif' font-size="33" fill="#6800a8" stroke="#6800a8" stroke-width="0.5">*</text>
<text x="1648.72" y="151.95" font-family='"Liberation Sans", Arial, sans-serif' font-size="33" fill="#6800a8" stroke="#6800a8" stroke-width="0.5">*</text>
<text x="1602.42" y="170.55" font-family='"Liberation Sans", Arial, sans-serif' font-size="33" fill="#ff0000" stroke="#ff0000" stroke-width="0.5">*</text>
<text x="1617.85" y="170.55" font-family='"Liberation Sans", Arial, sans-serif' font-size="33" fill="#ff0000" stroke="#ff0000" stroke-width="0.5">*</text>
<text x="1633.29" y="170.55" font-family='"Liberation Sans", Arial, sans-serif' font-size="33" fill="#ff0000" stroke="#ff0000" stroke-width="0.5">*</text>
<text x="1648.72" y="170.55" font-family='"Liberation Sans", Arial, sans-serif' font-size="33" fill="#ff0000" stroke="#ff0000" stroke-width="0.5">*</text>
<text x="1602.42" y="187.75" font-family='"Liberation Sans", Arial, sans-serif' font-size="33" fill="#0000ff" stroke="#0000ff" stroke-width="0.5">*</text>
<text x="1617.85" y="187.75" font-family='"Liberation Sans", Arial, sans-serif' font-size="33" fill="#0000ff" stroke="#0000ff" stroke-width="0.5">*</text>
<text x="1633.29" y="187.75" font-family='"Liberation Sans", Arial, sans-serif' font-size="33" fill="#0000ff" stroke="#0000ff" stroke-width="0.5">*</text>
<text x="1648.72" y="187.75" font-family='"Liberation Sans", Arial, sans-serif' font-size="33" fill="#0000ff" stroke="#0000ff" stroke-width="0.5">*</text>
<text x="1680.92" y="183.65" font-family='"Liberation Sans", Arial, sans-serif' font-size="33" fill="#ff0000" stroke="#ff0000" stroke-width="0.5">*</text>
<text x="1696.39" y="183.65" font-family='"Liberation Sans", Arial, sans-serif' font-size="33" fill="#ff0000" stroke="#ff0000" stroke-width="0.5">*</text>
<text x="1711.85" y="183.65" font-family='"Liberation Sans", Arial, sans-serif' font-size="33" fill="#ff0000" stroke="#ff0000" stroke-width="0.5">*</text>
<text x="1727.32" y="183.65" font-family='"Liberation Sans", Arial, sans-serif' font-size="33" fill="#ff0000" stroke="#ff0000" stroke-width="0.5">*</text>
<text x="1680.92" y="200.65" font-family='"Liberation Sans", Arial, sans-serif' font-size="33" fill="#0000ff" stroke="#0000ff" stroke-width="0.5">*</text>
<text x="1696.39" y="200.65" font-family='"Liberation Sans", Arial, sans-serif' font-size="33" fill="#0000ff" stroke="#0000ff" stroke-width="0.5">*</text>
<text x="1711.85" y="200.65" font-family='"Liberation Sans", Arial, sans-serif' font-size="33" fill="#0000ff" stroke="#0000ff" stroke-width="0.5">*</text>
<text x="1727.32" y="200.65" font-family='"Liberation Sans", Arial, sans-serif' font-size="33" fill="#0000ff" stroke="#0000ff" stroke-width="0.5">*</text>
<path d="M1753.5,127.50 H1787.7" stroke="#000000" stroke-width="3.5"/>
<rect x="1763" y="119.30" width="16.2" height="16.4" fill="#000000"/>
<text transform="translate(1806.84,136.00) scale(0.9484,1)" font-family='"Liberation Serif", "Times New Roman", serif' font-size="31" fill="#000">ID2 Alone</text>
<path d="M1753.5,164.00 H1787.7" stroke="#0000ff" stroke-width="3.5"/>
<rect x="1763" y="155.80" width="16.2" height="16.4" fill="#0000ff"/>
<text transform="translate(1806.84,172.50) scale(0.9484,1)" font-family='"Liberation Serif", "Times New Roman", serif' font-size="31" fill="#000">ID2 + Alum</text>
<path d="M1753.5,200.20 H1787.7" stroke="#ff0000" stroke-width="3.5"/>
<rect x="1763" y="192.00" width="16.2" height="16.4" fill="#ff0000"/>
<text transform="translate(1806.84,208.70) scale(0.9484,1)" font-family='"Liberation Serif", "Times New Roman", serif' font-size="31" fill="#000">ID2 + GLA-SE</text>
<path d="M1753.2,234.80 H1763 M1784.2,234.80 H1787.9" stroke="#000000" stroke-width="3.5"/>
<circle cx="1771.2" cy="234.80" r="8.1" fill="#000000"/>
<text transform="translate(1806.84,243.30) scale(0.9484,1)" font-family='"Liberation Serif", "Times New Roman", serif' font-size="31" fill="#000">dID2 Alone</text>
<path d="M1753.2,270.90 H1763 M1784.2,270.90 H1787.9" stroke="#0000ff" stroke-width="3.5"/>
<circle cx="1771.2" cy="270.90" r="8.1" fill="#0000ff"/>
<text transform="translate(1806.84,279.40) scale(0.9484,1)" font-family='"Liberation Serif", "Times New Roman", serif' font-size="31" fill="#000">dID2 + Alum</text>
<path d="M1753.2,307.20 H1763 M1784.2,307.20 H1787.9" stroke="#ff0000" stroke-width="3.5"/>
<circle cx="1771.2" cy="307.20" r="8.1" fill="#ff0000"/>
<text transform="translate(1806.84,315.70) scale(0.9484,1)" font-family='"Liberation Serif", "Times New Roman", serif' font-size="31" fill="#000">dID2 + GLA-SE</text>
</svg>
</body></html>
